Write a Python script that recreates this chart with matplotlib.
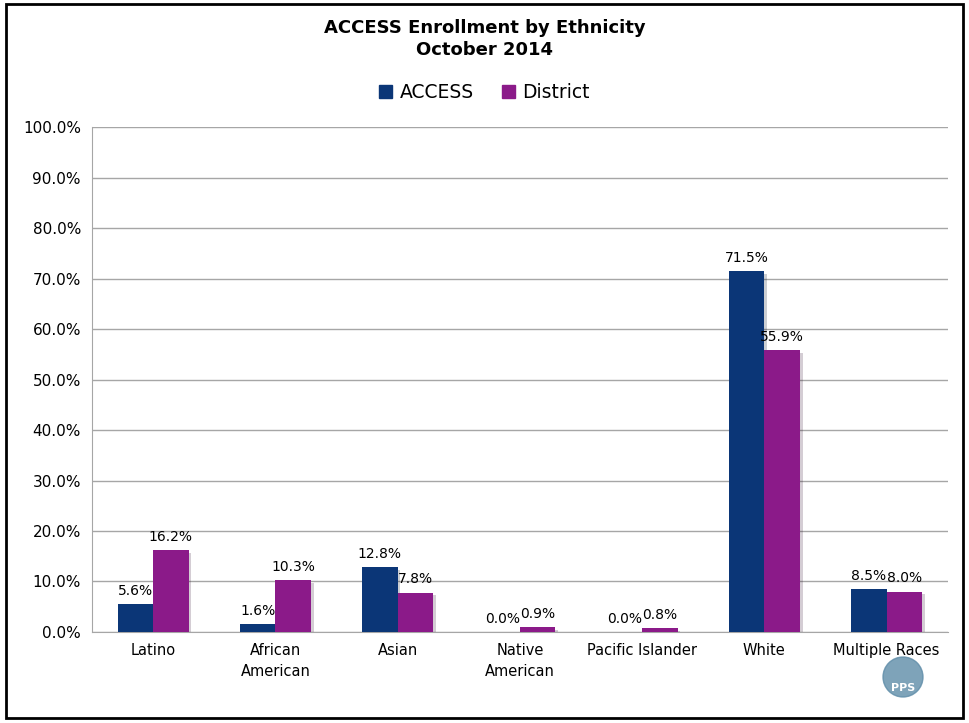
import numpy as np
import matplotlib.pyplot as plt
import matplotlib.patheffects as pe
from matplotlib.patches import Rectangle, Ellipse, Patch

categories = ["Latino", "African\nAmerican", "Asian", "Native\nAmerican",
              "Pacific Islander", "White", "Multiple Races"]
access = [5.6, 1.6, 12.8, 0.0, 0.0, 71.5, 8.5]
district = [16.2, 10.3, 7.8, 0.9, 0.8, 55.9, 8.0]

plt.rcParams['font.family'] = ['DejaVu Sans']

fig = plt.figure(figsize=(9.69, 7.23), dpi=100)
ax = fig.add_axes([0.095, 0.126, 0.883, 0.698])

x = np.arange(len(categories))
w = 0.29
c_access = "#0B3677"
c_district = "#8B1A89"
shadow = [pe.SimplePatchShadow(offset=(2, -2), alpha=0.2), pe.Normal()]
b1 = ax.bar(x - w / 2, access, w, color=c_access, zorder=3)
b2 = ax.bar(x + w / 2, district, w, color=c_district, zorder=3)
for b in list(b1) + list(b2):
    b.set_path_effects(shadow)

for bars, vals in ((b1, access), (b2, district)):
    for b, v in zip(bars, vals):
        ax.text(b.get_x() + b.get_width() / 2, v + 1.2, f"{v:.1f}%",
                ha="center", va="bottom", fontsize=10, zorder=4)

ax.set_xlim(-0.5, len(categories) - 0.5)
ax.set_ylim(0, 100)
ax.set_yticks(np.arange(0, 101, 10))
ax.set_yticklabels([f"{t:.1f}%" for t in np.arange(0, 101, 10)], fontsize=11)
ax.set_xticks(x)
ax.set_xticklabels(categories, fontsize=10.5, linespacing=1.5)
ax.tick_params(axis="both", length=0, pad=8)
ax.yaxis.grid(True, color="#A6A6A6", linewidth=1)
ax.set_axisbelow(True)
for s in ("top", "right"):
    ax.spines[s].set_visible(False)
ax.spines["left"].set_color("#A6A6A6")
ax.spines["bottom"].set_color("#A6A6A6")

fig.text(0.5, 0.961, "ACCESS Enrollment by Ethnicity", ha="center", va="center",
         fontsize=13, fontweight="bold")
fig.text(0.5, 0.931, "October 2014", ha="center", va="center",
         fontsize=13, fontweight="bold")
handles = [Patch(color=c_access, label="ACCESS"), Patch(color=c_district, label="District")]
fig.legend(handles=handles, loc="center", bbox_to_anchor=(0.5, 0.872), ncol=2,
           frameon=False, fontsize=13.5, handlelength=0.7, handleheight=0.7,
           handletextpad=0.4, columnspacing=1.5)

# outer frame
fig.add_artist(Rectangle((0.006, 0.007), 0.988, 0.988, transform=fig.transFigure,
                         fill=False, edgecolor="black", linewidth=2))

# small logo mark
fig.add_artist(Ellipse((903 / 969, 1 - 677 / 723), 40 / 969, 40 / 723,
                       transform=fig.transFigure, color="#5E8CA8", alpha=0.8,
                       zorder=0))
fig.text(903 / 969, 1 - 688 / 723, "PPS", ha="center", va="center", fontsize=8,
         color="white", fontweight="bold")

fig.savefig("out.png", dpi=100)
